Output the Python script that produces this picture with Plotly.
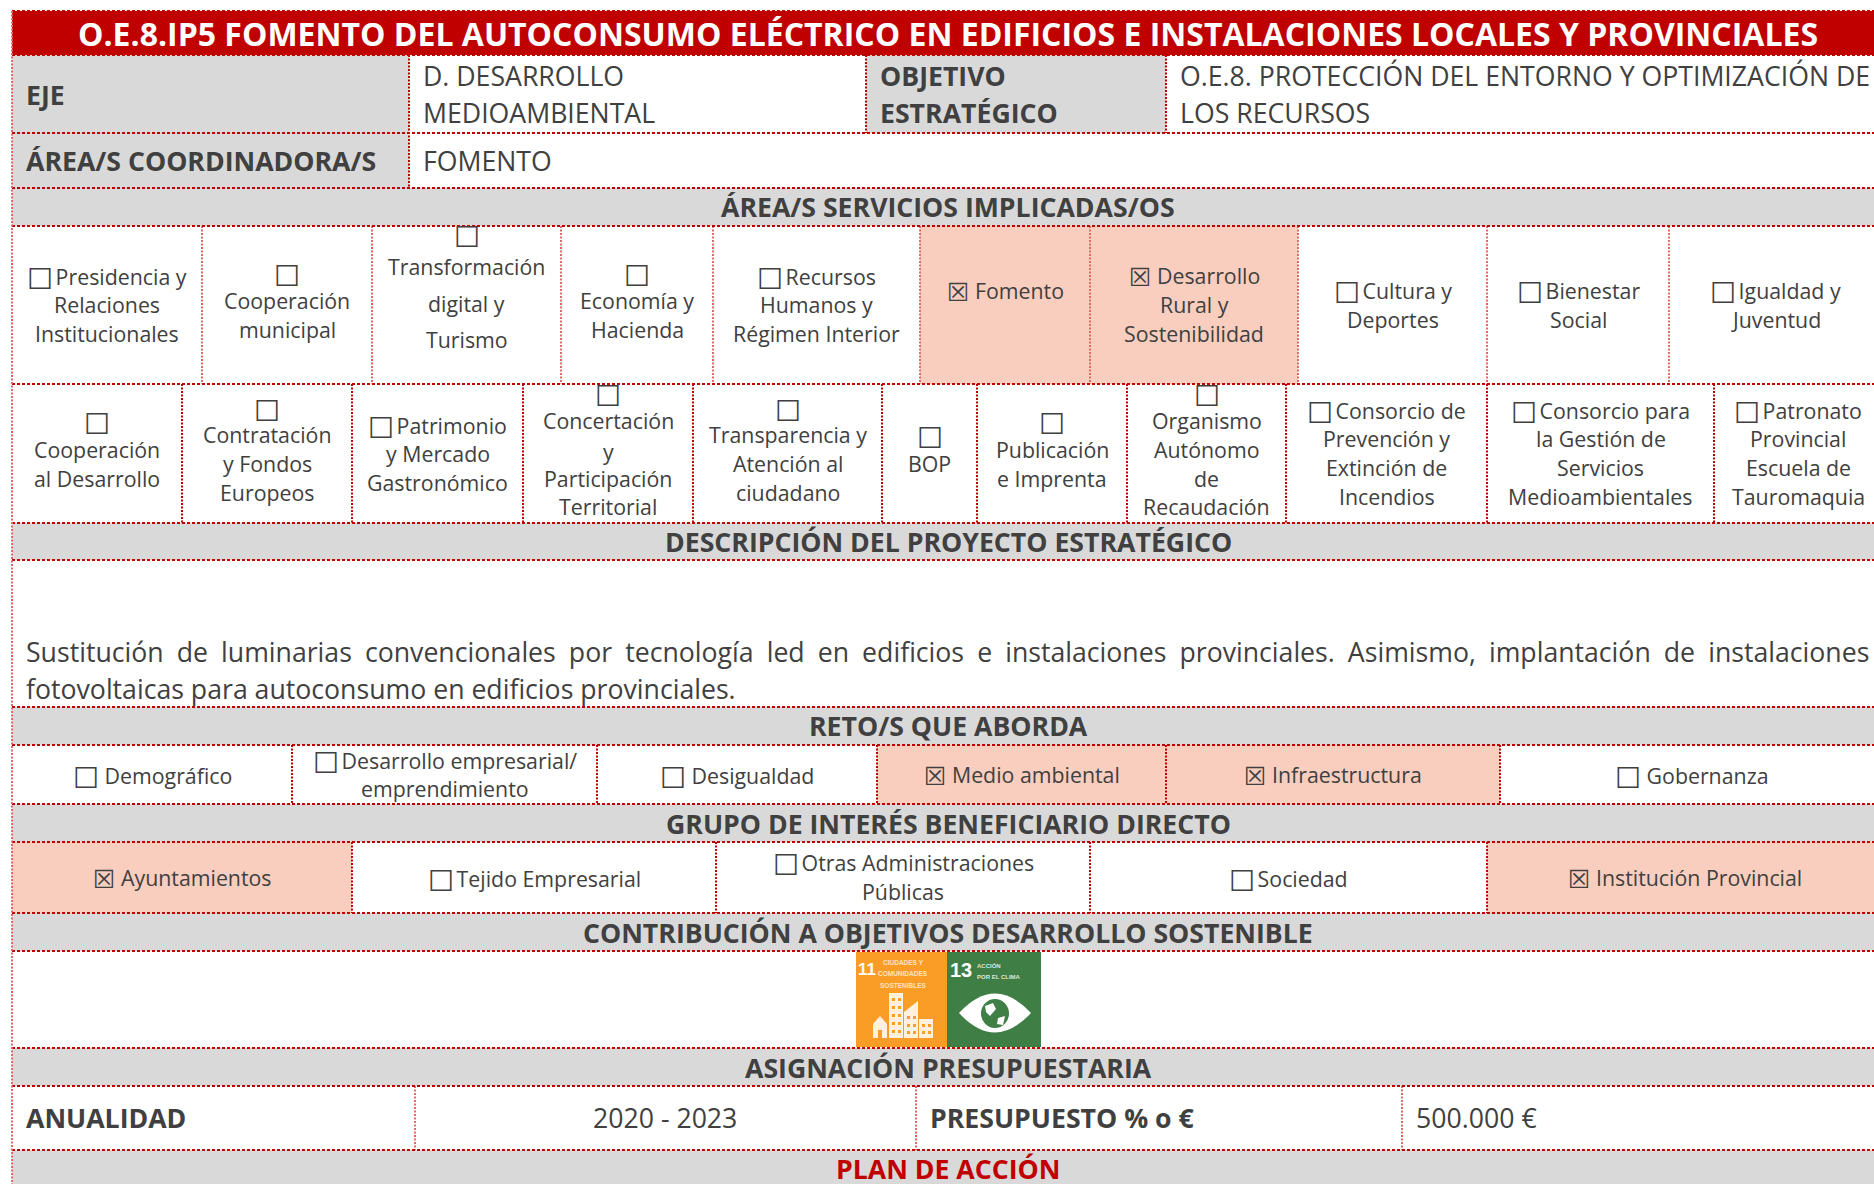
import plotly.graph_objects as go

W, H = 1874, 1184
LEFT, RIGHT = 12, 1882
RED, GREY, PEACH, INK = "#C00000", "#D9D9D9", "#F9CEBF", "#404040"
SOFTRED = "#E06A6A"
FONT = "Open Sans"
BOX, XBOX = "\u2610", "\u2612"
SMALL, LARGE, TITLE_SIZE = 21.33, 26.67, 32

TITLE = "O.E.8.IP5 FOMENTO DEL AUTOCONSUMO ELÉCTRICO EN EDIFICIOS E INSTALACIONES LOCALES Y PROVINCIALES"
HEADERS = ["ÁREA/S SERVICIOS IMPLICADAS/OS", "DESCRIPCIÓN DEL PROYECTO ESTRATÉGICO", "RETO/S QUE ABORDA",
           "GRUPO DE INTERÉS BENEFICIARIO DIRECTO", "CONTRIBUCIÓN A OBJETIVOS DESARROLLO SOSTENIBLE",
           "ASIGNACIÓN PRESUPUESTARIA", "PLAN DE ACCIÓN"]
HEADER_BANDS = [(188, 226), (523, 560), (707, 745), (804, 842), (913, 951), (1048, 1086), (1150, 1190)]
HEADER_Y = [206, 541, 725, 823, 932, 1067, 1168]
ROW_LINES = [11, 55, 133, 188, 226, 384, 523, 560, 707, 745, 804, 842, 913, 951, 1048, 1086, 1150]

# Each cell: (lines of text, y centre of each line); the checkbox is written as part of the lines
SERVICES_1 = [
    ([BOX + " Presidencia y", "Relaciones", "Institucionales"], [277, 306, 335]),
    ([BOX, "Cooperación", "municipal"], [276, 302, 331]),
    ([BOX, "Transformación", "digital y", "Turismo"], [237, 268, 305, 341]),
    ([BOX, "Economía y", "Hacienda"], [276, 302, 331]),
    ([BOX + " Recursos", "Humanos y", "Régimen Interior"], [277, 306, 335]),
    ([XBOX + " Fomento"], [292]),
    ([XBOX + " Desarrollo", "Rural y", "Sostenibilidad"], [277, 306, 335]),
    ([BOX + " Cultura y", "Deportes"], [291, 321]),
    ([BOX + " Bienestar", "Social"], [291, 321]),
    ([BOX + " Igualdad y", "Juventud"], [291, 321]),
]
SERVICES_1_EDGES = [12, 202, 372, 561, 713, 920, 1090, 1298, 1487, 1669, 1882]
SERVICES_1_ON = [0, 0, 0, 0, 0, 1, 1, 0, 0, 0]

SERVICES_2 = [
    ([BOX, "Cooperación", "al Desarrollo"], [424, 451, 480]),
    ([BOX, "Contratación", "y Fondos", "Europeos"], [411, 436, 465, 494]),
    ([BOX + " Patrimonio", "y Mercado", "Gastronómico"], [426, 455, 484]),
    ([BOX, "Concertación", "y", "Participación", "Territorial"], [396, 422, 453, 480, 508]),
    ([BOX, "Transparencia y", "Atención al", "ciudadano"], [411, 436, 465, 494]),
    ([BOX, "BOP"], [438, 465]),
    ([BOX, "Publicación", "e Imprenta"], [424, 451, 480]),
    ([BOX, "Organismo", "Autónomo", "de", "Recaudación"], [396, 422, 451, 480, 508]),
    ([BOX + " Consorcio de", "Prevención y", "Extinción de", "Incendios"], [411, 440, 469, 498]),
    ([BOX + " Consorcio para", "la Gestión de", "Servicios", "Medioambientales"], [411, 440, 469, 498]),
    ([BOX + " Patronato", "Provincial", "Escuela de", "Tauromaquia"], [411, 440, 469, 498]),
]
SERVICES_2_EDGES = [12, 182, 352, 523, 693, 882, 977, 1127, 1286, 1487, 1714, 1882]
SERVICES_2_ON = [0] * 11

RETOS = [
    ([BOX + "  Demográfico"], [776]),
    ([BOX + " Desarrollo empresarial/", "emprendimiento"], [761, 790]),
    ([BOX + "  Desigualdad"], [776]),
    ([XBOX + " Medio ambiental"], [776]),
    ([XBOX + " Infraestructura"], [776]),
    ([BOX + "  Gobernanza"], [776]),
]
RETOS_EDGES = [12, 292, 597, 877, 1166, 1500, 1882]
RETOS_ON = [0, 0, 0, 1, 1, 0]

GRUPOS = [
    ([XBOX + " Ayuntamientos"], [879]),
    ([BOX + " Tejido Empresarial"], [879]),
    ([BOX + " Otras Administraciones", "Públicas"], [863, 893]),
    ([BOX + " Sociedad"], [879]),
    ([XBOX + " Institución Provincial"], [879]),
]
GRUPOS_EDGES = [12, 352, 716, 1090, 1487, 1882]
GRUPOS_ON = [1, 0, 0, 0, 1]

DESCRIPTION = ["Sustitución de luminarias convencionales por tecnología led en edificios e instalaciones provinciales. Asimismo, implantación de instalaciones",
               "fotovoltaicas para autoconsumo en edificios provinciales."]

shapes, notes = [], []


def rect(x0, y0, x1, y1, fill):
    shapes.append(dict(type="rect", x0=x0, y0=y0, x1=x1, y1=y1, fillcolor=fill, line_width=0, layer="below"))


def path(d, fill):
    shapes.append(dict(type="path", path=d, fillcolor=fill, line_width=0, layer="above"))


def square(x, y, s, fill):
    path(f"M{x},{y} L{x + s},{y} L{x + s},{y + s} L{x},{y + s} Z", fill)


def hline(x0, x1, y, width=2):
    shapes.append(dict(type="line", x0=x0, x1=x1, y0=y, y1=y, layer="above",
                       line=dict(color=RED, width=width, dash="3px,2px")))


def vline(x, y0, y1, width=2, color=RED):
    shapes.append(dict(type="line", x0=x, x1=x, y0=y0, y1=y1, layer="above",
                       line=dict(color=color, width=width, dash="2px,1.5px")))


def style_boxes(s, size):
    thin = '<span style="font-size:10px"> </span>'
    box = lambda g, k: (f'<span style="font-family:DejaVu Sans;font-size:{round(size * k)}px;'
                        f'baseline-shift:-2px">{g}</span>')
    s = s.replace(BOX + "  ", box(BOX, 1.35) + "\u00a0").replace(BOX + " ", box(BOX, 1.35) + thin).replace(BOX, box(BOX, 1.35))
    return s.replace(XBOX, box(XBOX, 1.15))


def text(x, y, s, size=SMALL, bold=False, color=INK, anchor="center", family=FONT):
    s = style_boxes(s, size)
    notes.append(dict(x=x, y=y, text=f"<b>{s}</b>" if bold else s, showarrow=False, xanchor=anchor, yanchor="middle",
                      xref="x", yref="y", align=anchor,
                      font=dict(family=family, size=size, color=color)))


def line_lift(s):
    if s == BOX:
        return 0
    if s.startswith(BOX):
        return -1.5
    return 1 if s.startswith(XBOX) else 1.5


def cell_row(cells, edges, on, y0, y1, rule_color=RED):
    for i, (lines, ys) in enumerate(cells):
        if on[i]:
            rect(edges[i], y0, edges[i + 1], y1, PEACH)
        if i:
            vline(edges[i], y0, y1, color=rule_color)
        for s, y in zip(lines, ys):
            text((edges[i] + edges[i + 1]) / 2, y - line_lift(s), s)


# Title and grey bands
rect(LEFT, 11, RIGHT, 55, RED)
text(948, 33, TITLE, size=TITLE_SIZE, bold=True, color="white")
for (y0, y1), label, yc in zip(HEADER_BANDS, HEADERS, HEADER_Y):
    rect(LEFT, y0, RIGHT, y1, GREY)
    text(948, yc, label, size=LARGE, bold=True, color=RED if label == "PLAN DE ACCIÓN" else INK)

# EJE block
rect(LEFT, 55, 409, 133, GREY)
rect(866, 55, 1166, 133, GREY)
rect(LEFT, 133, 409, 188, GREY)
vline(409, 55, 188)
vline(866, 55, 133)
vline(1166, 55, 133)
text(24, 94, "EJE", LARGE, True, anchor="left")
text(421, 75, "D. DESARROLLO", LARGE, anchor="left")
text(421, 112, "MEDIOAMBIENTAL", LARGE, anchor="left")
text(878, 75, "OBJETIVO", LARGE, True, anchor="left")
text(878, 112, "ESTRATÉGICO", LARGE, True, anchor="left")
text(1178, 75, "O.E.8. PROTECCIÓN DEL ENTORNO Y OPTIMIZACIÓN DE", LARGE, anchor="left")
text(1178, 112, "LOS RECURSOS", LARGE, anchor="left")
text(24, 160, "ÁREA/S COORDINADORA/S", LARGE, True, anchor="left")
text(421, 160, "FOMENTO", LARGE, anchor="left")

cell_row(SERVICES_1, SERVICES_1_EDGES, SERVICES_1_ON, 226, 384, SOFTRED)
cell_row(SERVICES_2, SERVICES_2_EDGES, SERVICES_2_ON, 384, 523)
cell_row(RETOS, RETOS_EDGES, RETOS_ON, 745, 804)
cell_row(GRUPOS, GRUPOS_EDGES, GRUPOS_ON, 842, 913)

# Description
notes.append(dict(x=24, y=651, xref="x", yref="y", showarrow=False, xanchor="left", yanchor="middle",
                  text=f'<span style="word-spacing:6.15px">{DESCRIPTION[0]}</span>',
                  font=dict(family=FONT, size=LARGE, color=INK)))
text(24, 688, DESCRIPTION[1], LARGE, anchor="left")

# Budget
vline(415, 1086, 1150, color=SOFTRED)
vline(916, 1086, 1150, color=SOFTRED)
vline(1402, 1086, 1150, color=SOFTRED)
text(24, 1117, "ANUALIDAD", LARGE, True, anchor="left")
text(665, 1117, "2020 - 2023", LARGE)
text(928, 1117, "PRESUPUESTO % o €", LARGE, True, anchor="left")
text(1414, 1117, "500.000 €", LARGE, anchor="left")

# SDG tiles
ORANGE, GREEN = "#F99D26", "#3F7E44"
TILE_FONT = "Liberation Sans"
rect(856, 952, 947, 1047, ORANGE)
rect(947, 952, 1041, 1047, GREEN)
text(867, 969, "11", 17, True, color="white", family=TILE_FONT)
for s, y in zip(["CIUDADES Y", "COMUNIDADES", "SOSTENIBLES"], [962, 973, 985]):
    text(903, y, s, 6.5, True, color="#FDE3C0", family=TILE_FONT)
text(961, 970, "13", 20, True, color="white", family=TILE_FONT)
for s, y in zip(["ACCIÓN", "POR EL CLIMA"], [965, 977]):
    text(975, y, s, 6, True, color="#DDE8DD", anchor="left", family=TILE_FONT)
CREAM = "#FDF0DC"
path("M873,1038 L873,1024 L880,1016 L887,1024 L887,1038 Z", CREAM)
path("M889,993 L903,993 L903,1038 L889,1038 Z", CREAM)
path("M904,1038 L904,1012 L918,1001 L918,1038 Z", CREAM)
path("M919,1019 L933,1019 L933,1038 L919,1038 Z", CREAM)
for y in (998, 1006, 1014, 1022, 1030):
    for x in (892, 898):
        square(x, y, 3, ORANGE)
for y in (1016, 1024, 1031):
    for x in (907, 913):
        square(x, y, 3, ORANGE)
for y in (1024, 1031):
    for x in (922, 928):
        square(x, y, 3, ORANGE)
path("M878,1038 L878,1030 L882,1030 L882,1038 Z", ORANGE)
path("M959,1013 Q995,974 1031,1013 Q995,1052 959,1013 Z", "#FFFFFF")
shapes.append(dict(type="circle", x0=981, x1=1009, y0=999, y1=1028, fillcolor=GREEN, line_width=0, layer="above"))
path("M985,1006 L993,1003 L996,1009 L990,1016 L986,1012 Z", "#FFFFFF")
path("M998,1018 L1005,1016 L1003,1025 L997,1024 Z", "#FFFFFF")

# Red dotted rules, on top of fills
for y in ROW_LINES:
    hline(LEFT, RIGHT, y)
vline(LEFT, 11, H + 6, color=SOFTRED)

fig = go.Figure(go.Scatter(x=[0, W], y=[0, H], mode="markers", marker=dict(opacity=0), hoverinfo="skip"))
fig.update_layout(width=W, height=H, margin=dict(l=0, r=0, t=0, b=0), paper_bgcolor="white", plot_bgcolor="white",
                  showlegend=False, shapes=shapes, annotations=notes,
                  xaxis=dict(range=[0, W], visible=False, fixedrange=True),
                  yaxis=dict(range=[H, 0], visible=False, fixedrange=True))
fig.write_html("out.html", config=dict(displayModeBar=False),
               post_script="document.body.style.margin='0';document.body.style.overflow='hidden';")
